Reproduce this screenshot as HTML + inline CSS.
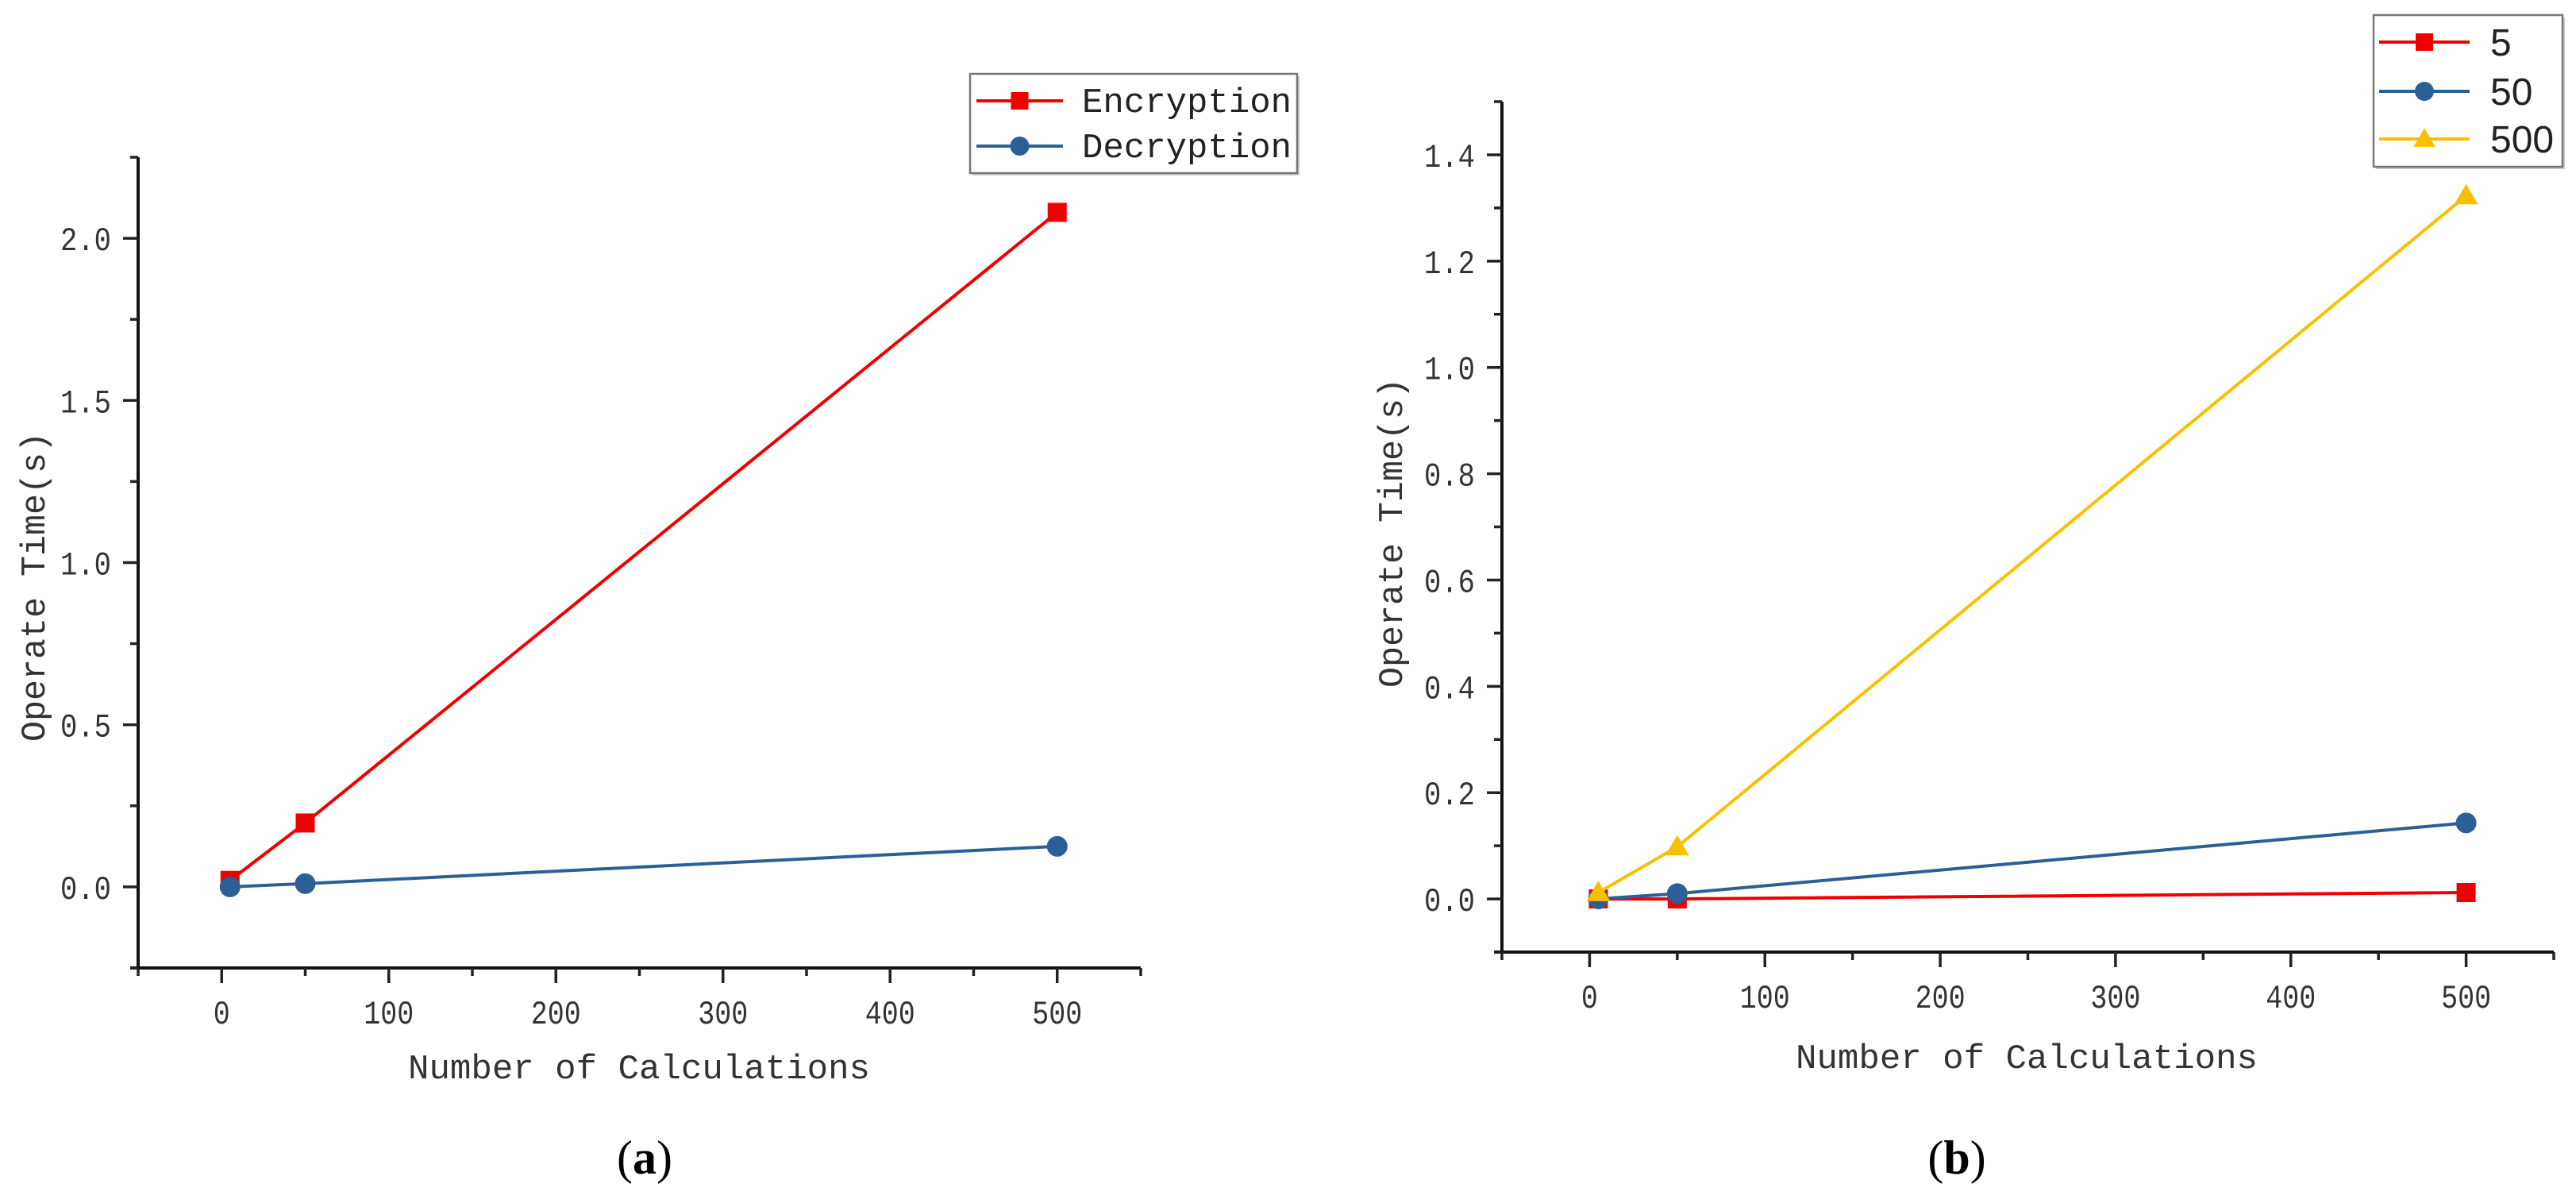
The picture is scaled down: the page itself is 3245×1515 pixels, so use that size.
<!DOCTYPE html>
<html><head><meta charset="utf-8"><style>
html,body{margin:0;padding:0;background:#fff;}
svg{display:block;}
</style></head><body>
<svg id="fig" width="3245" height="1515" viewBox="0 0 3245 1515" xmlns="http://www.w3.org/2000/svg"></svg>
<script>
// ---- Chart (a) data ----
const aCategories = [5, 50, 500];
const aEncryption = [0.02, 0.197, 2.08];
const aDecryption = [0.0, 0.01, 0.125];
const aXTicks = [0, 100, 200, 300, 400, 500];
const aYTicks = [0.0, 0.5, 1.0, 1.5, 2.0];
const aYTickLabels = ["0.0", "0.5", "1.0", "1.5", "2.0"];
// ---- Chart (b) data ----
const bCategories = [5, 50, 500];
const bSeries5 = [0.0, 0.0, 0.012];
const bSeries50 = [0.0, 0.01, 0.143];
const bSeries500 = [0.012, 0.098, 1.323];
const bXTicks = [0, 100, 200, 300, 400, 500];
const bYTicks = [0.0, 0.2, 0.4, 0.6, 0.8, 1.0, 1.2, 1.4];
const bYTickLabels = ["0.0", "0.2", "0.4", "0.6", "0.8", "1.0", "1.2", "1.4"];

const NS = "http://www.w3.org/2000/svg";
const svg = document.getElementById("fig");
function mk(tag, attrs, parent) {
  const e = document.createElementNS(NS, tag);
  for (const k in attrs) e.setAttribute(k, attrs[k]);
  (parent || svg).appendChild(e);
  return e;
}
const RED = "#ee0000", BLUE = "#2d5f97", YEL = "#f7c100";
const MONO = '"Liberation Mono", "Noto Sans CJK SC", monospace';

function marker(g, shape, x, y, color, s) {
  let m;
  if (shape === "square") m = mk("rect", {x: x - s/2, y: y - s/2, width: s, height: s, fill: color}, g);
  else if (shape === "circle") m = mk("circle", {cx: x, cy: y, r: s/2 + 1, fill: color}, g);
  else m = mk("polygon", {points: `${x},${y - s*0.62} ${x - s*0.62},${y + s*0.45} ${x + s*0.62},${y + s*0.45}`, fill: color}, g);
  return m;
}

function chart(cfg) {
  const g = mk("g", {});
  
  
  const sx = v => cfg.x0 + (v - cfg.xmin) / (cfg.xmax - cfg.xmin) * (cfg.x1 - cfg.x0);
  const sy = v => cfg.y1 - (v - cfg.ymin) / (cfg.ymax - cfg.ymin) * (cfg.y1 - cfg.y0);
  // axes
  const ax = mk("path", {d: `M${cfg.x0},${cfg.y0} V${cfg.y1} M${cfg.x0 - 10},${cfg.y1} H${cfg.x1}`, stroke: "#111", "stroke-width": 4, fill: "none"}, g);
  
  
  // x ticks
  for (let v = cfg.xmin; v <= cfg.xmax + 1e-9; v += 50) {
    const major = Math.abs(v % 100) < 1e-9;
    const t = mk("line", {x1: sx(v), x2: sx(v), y1: cfg.y1, y2: cfg.y1 + (major ? 19 : 10), stroke: "#222", "stroke-width": 3.5}, g);
    
    
  }
  cfg.xTicks.forEach(v => {
    const s = String(v);
    const t = mk("text", {x: sx(v), y: cfg.y1 + 70, "text-anchor": "middle", "font-family": MONO, "font-size": 42, fill: "#333", textLength: s.length * 21, lengthAdjust: "spacingAndGlyphs"}, g);
    t.textContent = s;
    
    
  });
  // y ticks
  for (let v = cfg.yminTick; v <= cfg.ymax + 1e-9; v += cfg.yMinor) {
    const ratio = Math.round((v - cfg.yminTick) / cfg.yMinor);
    const major = ratio % 2 === (cfg.majorParity);
    const t = mk("line", {x1: cfg.x0, x2: cfg.x0 - (major ? 19 : 10), y1: sy(v), y2: sy(v), stroke: "#222", "stroke-width": 3.5}, g);
    
    
  }
  cfg.yTicks.forEach((v, i) => {
    const t = mk("text", {x: cfg.x0 - 34, y: sy(v) + 15, "text-anchor": "end", "font-family": MONO, "font-size": 42, fill: "#333", textLength: 64, lengthAdjust: "spacingAndGlyphs"}, g);
    t.textContent = cfg.yLabels[i];
    
    
  });
  // titles
  const xt = mk("text", {x: cfg.xTitleX, y: cfg.xTitleY, "text-anchor": "middle", "font-family": MONO, "font-size": 44, fill: "#333", textLength: 582, lengthAdjust: "spacingAndGlyphs"}, g);
  xt.textContent = "Number of Calculations";
  
  
  const yt = mk("text", {x: 0, y: 0, "text-anchor": "middle", "font-family": MONO, "font-size": 44, fill: "#333", textLength: 390, lengthAdjust: "spacingAndGlyphs", transform: `translate(${cfg.yTitleX},${cfg.yTitleY}) rotate(-90)`}, g);
  yt.textContent = "Operate Time(s)";
  
  
  // series
  cfg.series.forEach(s => {
    const sg = mk("g", {}, g);
    
    
    const pts = cfg.cats.map((c, i) => `${sx(c)},${sy(s.values[i])}`).join(" ");
    const pl = mk("polyline", {points: pts, fill: "none", stroke: s.color, "stroke-width": 4}, sg);
    
    
    cfg.cats.forEach((c, i) => {
      const m = marker(sg, s.shape, sx(c), sy(s.values[i]), s.color, 24);
      
      
    });
  });
  // legend
  const L = cfg.legend;
  const lg = mk("g", {}, g);
  
  
  mk("rect", {x: L.x + 3, y: L.y + 3, width: L.w, height: L.h, fill: "#ccc"}, lg);
  mk("rect", {x: L.x, y: L.y, width: L.w, height: L.h, fill: "#fff", stroke: "#777", "stroke-width": 2.5}, lg);
  cfg.series.forEach((s, i) => {
    const ey = L.rows[i];
    const eg = mk("g", {}, lg);
    
    
    mk("line", {x1: L.lx0, x2: L.lx1, y1: ey, y2: ey, stroke: s.color, "stroke-width": 4}, eg);
    marker(eg, s.shape, (L.lx0 + L.lx1) / 2, ey, s.color, 22);
    const t = mk("text", {x: L.tx, y: ey + L.dy, "font-family": L.font, "font-size": L.size, fill: "#222"}, eg);
    if (L.tl) { t.setAttribute("textLength", s.label.length * L.tl); t.setAttribute("lengthAdjust", "spacingAndGlyphs"); }
    t.textContent = s.label;
  });
}

chart({
  name: "chart-a", x0: 174, x1: 1437, y0: 198, y1: 1219,
  xmin: -50, xmax: 550, ymin: -0.25, ymax: 2.25, yminTick: -0.25, yMinor: 0.25, majorParity: 1,
  xTicks: aXTicks, yTicks: aYTicks, yLabels: aYTickLabels, cats: aCategories,
  xTitleX: 805, xTitleY: 1358, yTitleX: 56, yTitleY: 739,
  series: [
    {key: "encryption", label: "Encryption", values: aEncryption, color: RED, shape: "square"},
    {key: "decryption", label: "Decryption", values: aDecryption, color: BLUE, shape: "circle"}
  ],
  legend: {x: 1222, y: 93, w: 412, h: 125, rows: [127, 184], lx0: 1230, lx1: 1339, tx: 1363, dy: 14, font: MONO, size: 44, tl: 26.4}
});
chart({
  name: "chart-b", x0: 1892, x1: 3217, y0: 128, y1: 1199,
  xmin: -50, xmax: 550, ymin: -0.1, ymax: 1.5, yminTick: -0.1, yMinor: 0.1, majorParity: 1,
  xTicks: bXTicks, yTicks: bYTicks, yLabels: bYTickLabels, cats: bCategories,
  xTitleX: 2553, xTitleY: 1345, yTitleX: 1766, yTitleY: 671,
  series: [
    {key: "5", label: "5", values: bSeries5, color: RED, shape: "square"},
    {key: "50", label: "50", values: bSeries50, color: BLUE, shape: "circle"},
    {key: "500", label: "500", values: bSeries500, color: YEL, shape: "triangle"}
  ],
  legend: {x: 2990, y: 19, w: 238, h: 191, rows: [53, 115, 175], lx0: 2997, lx1: 3111, tx: 3137, dy: 17, font: '"Liberation Sans", sans-serif', size: 48, tl: 0}
});

// captions
const ca = mk("text", {x: 812, y: 1478, "text-anchor": "middle", "font-family": '"Liberation Serif", serif', "font-size": 60, fill: "#000"});
ca.innerHTML = '(<tspan font-weight="bold">a</tspan>)';


const cb = mk("text", {x: 2465, y: 1478, "text-anchor": "middle", "font-family": '"Liberation Serif", serif', "font-size": 60, fill: "#000"});
cb.innerHTML = '(<tspan font-weight="bold">b</tspan>)';


</script>
</body></html>
